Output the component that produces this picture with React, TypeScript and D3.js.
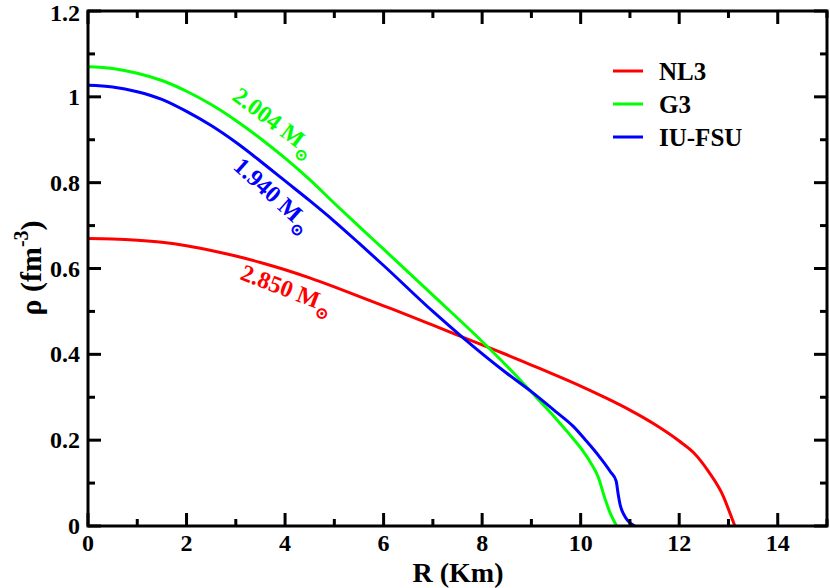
import { useRef, useEffect } from 'react'
import * as d3 from 'd3'

// radius (km) / density (fm^-3)
const nl3R = [0, 0.5, 1, 1.5, 2, 2.5, 3, 3.5, 4, 4.5, 5, 5.5, 6, 6.5, 7, 7.5, 8, 8.5, 9, 9.5, 10, 10.5, 11, 11.5, 12, 12.3, 12.6, 12.9, 13.03, 13.13]
const nl3Rho = [0.67, 0.669, 0.666, 0.661, 0.653, 0.642, 0.629, 0.614, 0.597, 0.578, 0.557, 0.535, 0.513, 0.491, 0.468, 0.445, 0.422, 0.399, 0.375, 0.351, 0.326, 0.299, 0.27, 0.237, 0.198, 0.17, 0.126, 0.068, 0.03, 0]

const g3R = [0, 0.5, 1, 1.5, 2, 2.5, 3, 3.5, 4, 4.5, 5, 5.5, 6, 7, 8, 8.5, 9, 9.5, 9.8, 10, 10.2, 10.36, 10.49, 10.6, 10.73]
const g3Rho = [1.07, 1.066, 1.055, 1.038, 1.013, 0.982, 0.945, 0.903, 0.857, 0.807, 0.752, 0.698, 0.645, 0.538, 0.43, 0.373, 0.312, 0.25, 0.21, 0.182, 0.148, 0.113, 0.065, 0.03, 0]

const iuR = [0, 0.5, 1, 1.5, 2, 2.5, 3, 3.5, 4, 4.5, 5, 5.5, 6, 7, 7.62, 8.5, 9, 9.5, 9.85, 10.1, 10.39, 10.6, 10.72, 10.76, 10.8, 10.87, 10.95, 11.1]
const iuRho = [1.027, 1.023, 1.012, 0.994, 0.966, 0.933, 0.894, 0.85, 0.804, 0.758, 0.71, 0.659, 0.607, 0.5, 0.438, 0.356, 0.313, 0.266, 0.232, 0.2, 0.16, 0.127, 0.105, 0.075, 0.05, 0.028, 0.013, 0]

const seriesNames = ['NL3', 'G3', 'IU-FSU']
const seriesColors = ['#ff0000', '#00ff00', '#0000ff']
const massLabels = ['2.850', '2.004', '1.940']

const W = 830
const H = 588

const App = () => {
  const elRef = useRef<SVGSVGElement>(null)

  useEffect(() => {
    const svg = d3.select(elRef.current as SVGSVGElement)
    svg.selectAll('*').remove()

    const x = d3.scaleLinear().domain([0, 15]).range([88, 827])
    const y = d3.scaleLinear().domain([0, 1.2]).range([526, 11])
    const font = 'Liberation Serif, DejaVu Serif, serif'

    const series = [
      d3.zip(nl3R, nl3Rho),
      d3.zip(g3R, g3Rho),
      d3.zip(iuR, iuRho),
    ]

    const line = d3
      .line<number[]>()
      .x((d) => x(d[0]))
      .y((d) => y(d[1]))
      .curve(d3.curveMonotoneX)

    svg
      .selectAll('path.curve')
      .data(series)
      .enter()
      .append('path')
      .attr('class', 'curve')
      .attr('d', (d) => line(d))
      .attr('fill', 'none')
      .attr('stroke', (_, i) => seriesColors[i])
      .attr('stroke-width', 3)

    // frame + inward ticks on all sides
    const [x0, x1] = x.range()
    const [y0, y1] = y.range()
    const ticks = svg.append('g').attr('stroke', '#000').attr('stroke-width', 3)
    const major = 13
    const minor = 7

    x.ticks(15).forEach((t) => {
      const len = t % 2 === 0 ? major : minor
      ticks.append('line').attr('x1', x(t)).attr('x2', x(t)).attr('y1', y0).attr('y2', y0 - len)
      ticks.append('line').attr('x1', x(t)).attr('x2', x(t)).attr('y1', y1).attr('y2', y1 + len)
    })
    y.ticks(12).forEach((t) => {
      const len = Math.round(t * 10) % 2 === 0 ? major : minor
      ticks.append('line').attr('y1', y(t)).attr('y2', y(t)).attr('x1', x0).attr('x2', x0 + len)
      ticks.append('line').attr('y1', y(t)).attr('y2', y(t)).attr('x1', x1).attr('x2', x1 - len)
    })

    svg
      .append('rect')
      .attr('x', x0)
      .attr('y', y1)
      .attr('width', x1 - x0)
      .attr('height', y0 - y1)
      .attr('fill', 'none')
      .attr('stroke', '#000')
      .attr('stroke-width', 3)

    const labels = svg
      .append('g')
      .style('font-family', font)
      .attr('font-weight', 'bold')
      .attr('font-size', 24)

    labels
      .selectAll('text.xt')
      .data(x.ticks(8))
      .enter()
      .append('text')
      .attr('x', (d) => x(d))
      .attr('y', 551)
      .attr('text-anchor', 'middle')
      .text((d) => String(d))

    labels
      .selectAll('text.yt')
      .data(y.ticks(6))
      .enter()
      .append('text')
      .attr('x', 80)
      .attr('y', (d) => Math.max(y(d) + 8, 21))
      .attr('text-anchor', 'end')
      .text((d) => String(+d.toFixed(1)))

    svg
      .append('text')
      .attr('x', 458)
      .attr('y', 582)
      .attr('text-anchor', 'middle')
      .style('font-family', font)
      .attr('font-weight', 'bold')
      .attr('font-size', 28)
      .text('R (Km)')

    const yl = svg
      .append('text')
      .attr('transform', 'translate(41,268) rotate(-90)')
      .attr('text-anchor', 'middle')
      .style('font-family', font)
      .attr('font-weight', 'bold')
      .attr('font-size', 30)
    yl.append('tspan').text('ρ (fm')
    yl.append('tspan').attr('font-size', 20).attr('dy', -13).text('-3')
    yl.append('tspan').attr('dy', 13).text(')')

    // legend
    const legend = svg.append('g').style('font-family', font).attr('font-weight', 'bold').attr('font-size', 25)
    seriesNames.forEach((name, i) => {
      const ly = 71 + i * 33
      legend
        .append('line')
        .attr('x1', 613)
        .attr('x2', 643)
        .attr('y1', ly)
        .attr('y2', ly)
        .attr('stroke', seriesColors[i])
        .attr('stroke-width', 3)
      legend
        .append('text')
        .attr('x', 659)
        .attr('y', ly + 9)
        .text(name)
    })

    // mass annotations along the curves
    const anno = [
      { at: [239, 279], angle: 21 },
      { at: [231, 99], angle: 37 },
      { at: [232, 168], angle: 42 },
    ]
    anno.forEach((a, i) => {
      const t = svg
        .append('text')
        .attr('transform', `translate(${a.at[0]},${a.at[1]}) rotate(${a.angle})`)
        .style('font-family', font)
        .attr('font-weight', 'bold')
        .attr('font-size', 24)
        .attr('fill', seriesColors[i])
      t.append('tspan').text(`${massLabels[i]} M`)
      t.append('tspan').attr('font-size', 17).attr('dy', 8).text('⊙')
    })
  }, [])

  return (
    <svg
      ref={elRef}
      width={W}
      height={H}
      style={{ position: 'absolute', left: 0, top: 0, background: '#fff' }}
    />
  )
}

export default App
